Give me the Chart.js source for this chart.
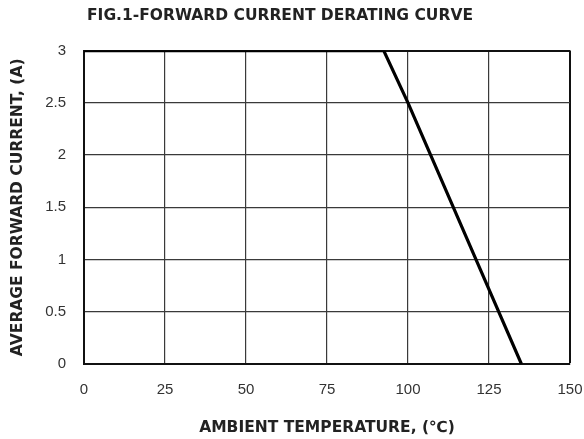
<!DOCTYPE html>
<html>
<head>
<meta charset="utf-8">
<script src="https://cdn.jsdelivr.net/npm/chart.js@4"></script>
<style>
  html, body { margin: 0; padding: 0; background: #fff; }
  #wrap { width: 584px; height: 439px; }
</style>
</head>
<body>
<div id="wrap"><canvas id="chart" width="584" height="439"></canvas></div>
<script>
const temperature = [0, 92.5, 100, 107, 121, 135];
const current = [3, 3, 2.5, 2, 1, 0];

const xTicks = [0, 25, 50, 75, 100, 125, 150];
const yTicks = [0, 0.5, 1, 1.5, 2, 2.5, 3];

const FONT = "'Liberation Sans', Arial, sans-serif";
const BOLD = "'DejaVu Sans', Arial, sans-serif";

const edgeWidth = (ctx, n) => (ctx.index === n - 1 ? 2 : 1.2);
const edgeColor = (ctx, n) => (ctx.index === n - 1 ? '#111' : '#3a3a3a');

// the figure title sits a little left of centre in the original
const shiftTitle = {
  id: 'shiftTitle',
  afterLayout(chart) {
    if (chart.titleBlock) {
      chart.titleBlock.left = 0;
      chart.titleBlock.right = 560;
    }
  }
};

new Chart(document.getElementById('chart').getContext('2d'), {
  type: 'line',
  data: {
    datasets: [{
      data: temperature.map((t, i) => ({ x: t, y: current[i] })),
      borderColor: '#000',
      borderWidth: 3.2,
      pointRadius: 0,
      tension: 0,
      fill: false
    }]
  },
  options: {
    responsive: false,
    animation: false,
    layout: { padding: { top: 0, right: 2, bottom: 0, left: 0 } },
    plugins: {
      legend: { display: false },
      tooltip: { enabled: false },
      title: {
        display: true,
        text: 'FIG.1-FORWARD CURRENT DERATING CURVE',
        color: '#222',
        font: { family: BOLD, size: 15.5, weight: 'bold' },
        padding: { top: 7, bottom: 25 }
      }
    },
    scales: {
      x: {
        type: 'linear',
        min: 0,
        max: 150,
        afterBuildTicks: s => { s.ticks = xTicks.map(v => ({ value: v })); },
        afterFit: s => {
          s.height = 439 - 364;
          s.paddingLeft = 0;
          s.paddingRight = 14;
        },
        grid: {
          drawTicks: false,
          color: ctx => edgeColor(ctx, xTicks.length),
          lineWidth: ctx => edgeWidth(ctx, xTicks.length)
        },
        border: { color: '#111', width: 2 },
        ticks: {
          padding: 17,
          color: '#333',
          font: { family: FONT, size: 15 },
          callback: v => String(v)
        },
        title: {
          display: true,
          text: 'AMBIENT TEMPERATURE, (℃)',
          color: '#222',
          font: { family: BOLD, size: 15.5, weight: 'bold' },
          padding: { top: 4, bottom: 2 }
        }
      },
      y: {
        type: 'linear',
        min: 0,
        max: 3,
        afterBuildTicks: s => { s.ticks = yTicks.map(v => ({ value: v })); },
        afterFit: s => { s.width = 84; },
        grid: {
          drawTicks: false,
          color: ctx => edgeColor(ctx, yTicks.length),
          lineWidth: ctx => edgeWidth(ctx, yTicks.length)
        },
        border: { color: '#111', width: 2 },
        ticks: {
          padding: 18,
          color: '#333',
          font: { family: FONT, size: 15 },
          callback: v => String(v)
        },
        title: {
          display: true,
          text: 'AVERAGE FORWARD CURRENT, (A)',
          color: '#222',
          font: { family: BOLD, size: 15.5, weight: 'bold' },
          padding: { top: 9, bottom: 0 }
        }
      }
    }
  },
  plugins: [shiftTitle]
});
</script>
</body>
</html>
